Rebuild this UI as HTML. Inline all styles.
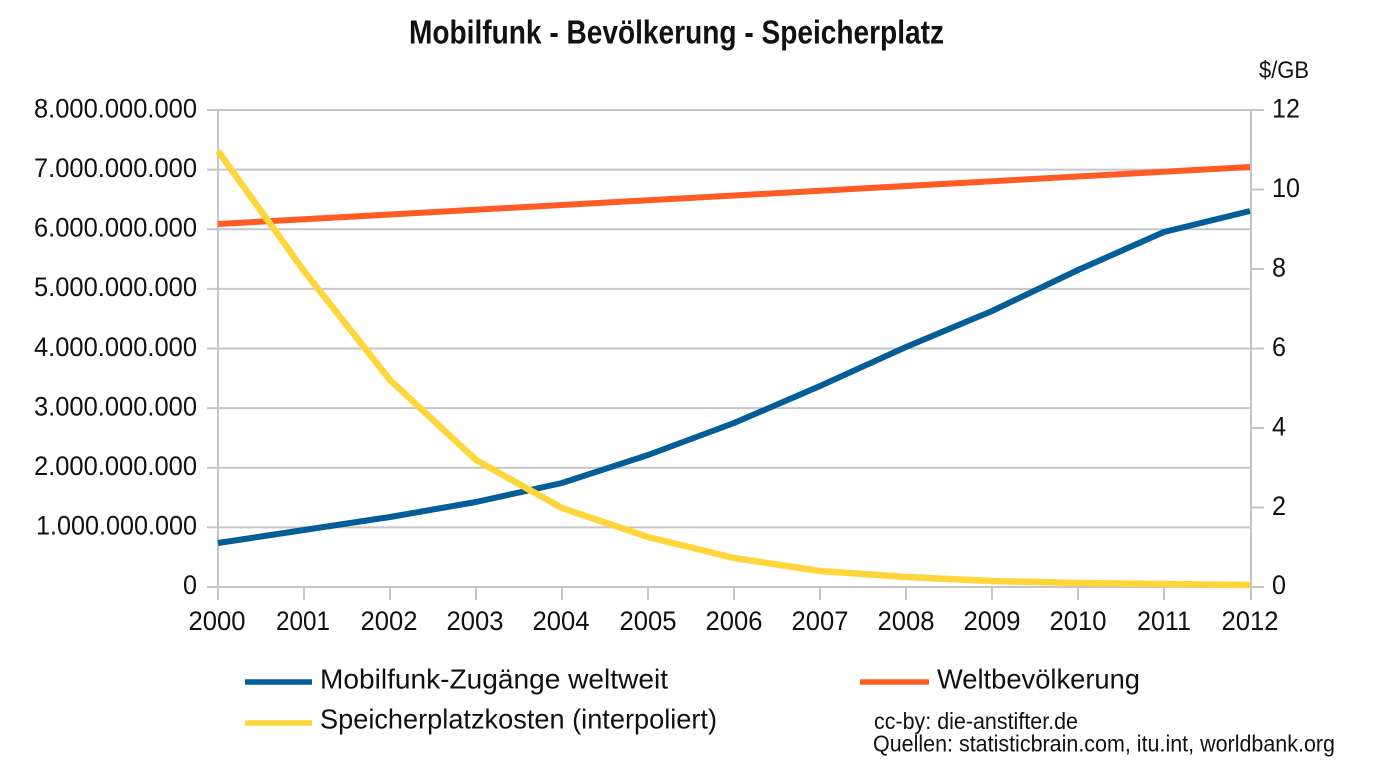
<!DOCTYPE html>
<html>
<head>
<meta charset="utf-8">
<style>
html,body{margin:0;padding:0;background:#fff;}
svg{display:block;}
text{font-family:"Liberation Sans",sans-serif;fill:#111;}
</style>
</head>
<body>
<svg width="1400" height="770" viewBox="0 0 1400 770" xmlns="http://www.w3.org/2000/svg">
<rect width="1400" height="770" fill="#fff"/>
<!-- title -->
<text x="409" y="43.5" font-size="33" font-weight="bold" textLength="535" lengthAdjust="spacingAndGlyphs">Mobilfunk - Bevölkerung - Speicherplatz</text>

<!-- gridlines (left ticks included) -->
<g stroke="#c6c6c6" stroke-width="2" fill="none">
<line x1="207" y1="110" x2="1264" y2="110"/>
<line x1="207" y1="169.6" x2="1251" y2="169.6"/>
<line x1="207" y1="229.25" x2="1251" y2="229.25"/>
<line x1="207" y1="288.9" x2="1251" y2="288.9"/>
<line x1="207" y1="348.5" x2="1264" y2="348.5"/>
<line x1="207" y1="408.1" x2="1251" y2="408.1"/>
<line x1="207" y1="467.75" x2="1251" y2="467.75"/>
<line x1="207" y1="527.4" x2="1251" y2="527.4"/>
<line x1="207" y1="587" x2="1264" y2="587"/>
<!-- right ticks -->
<line x1="1251" y1="189.5" x2="1264" y2="189.5"/>
<line x1="1251" y1="269" x2="1264" y2="269"/>
<line x1="1251" y1="428" x2="1264" y2="428"/>
<line x1="1251" y1="507.5" x2="1264" y2="507.5"/>
<!-- axes -->
<line x1="218" y1="109" x2="218" y2="600"/>
<line x1="1251" y1="109" x2="1251" y2="600"/>
<!-- x ticks -->
<line x1="304" y1="587" x2="304" y2="600"/>
<line x1="390" y1="587" x2="390" y2="600"/>
<line x1="476" y1="587" x2="476" y2="600"/>
<line x1="562" y1="587" x2="562" y2="600"/>
<line x1="648" y1="587" x2="648" y2="600"/>
<line x1="734" y1="587" x2="734" y2="600"/>
<line x1="820" y1="587" x2="820" y2="600"/>
<line x1="906" y1="587" x2="906" y2="600"/>
<line x1="992" y1="587" x2="992" y2="600"/>
<line x1="1078" y1="587" x2="1078" y2="600"/>
<line x1="1164" y1="587" x2="1164" y2="600"/>
</g>

<!-- left axis labels -->
<g font-size="27" text-anchor="end">
<text x="197" y="117.5" textLength="163" lengthAdjust="spacingAndGlyphs">8.000.000.000</text>
<text x="197" y="177" textLength="163" lengthAdjust="spacingAndGlyphs">7.000.000.000</text>
<text x="197" y="236.5" textLength="163" lengthAdjust="spacingAndGlyphs">6.000.000.000</text>
<text x="197" y="296" textLength="163" lengthAdjust="spacingAndGlyphs">5.000.000.000</text>
<text x="197" y="356" textLength="163" lengthAdjust="spacingAndGlyphs">4.000.000.000</text>
<text x="197" y="415.5" textLength="163" lengthAdjust="spacingAndGlyphs">3.000.000.000</text>
<text x="197" y="475" textLength="163" lengthAdjust="spacingAndGlyphs">2.000.000.000</text>
<text x="197" y="534.5" textLength="161" lengthAdjust="spacingAndGlyphs">1.000.000.000</text>
<text x="197" y="594" textLength="14" lengthAdjust="spacingAndGlyphs">0</text>
</g>

<!-- right axis labels -->
<g font-size="27">
<text x="1259" y="78" font-size="24" textLength="50" lengthAdjust="spacingAndGlyphs">$/GB</text>
<text x="1272" y="117.5" textLength="28" lengthAdjust="spacingAndGlyphs">12</text>
<text x="1272" y="197" textLength="28" lengthAdjust="spacingAndGlyphs">10</text>
<text x="1272" y="276.5" textLength="14" lengthAdjust="spacingAndGlyphs">8</text>
<text x="1272" y="356" textLength="14" lengthAdjust="spacingAndGlyphs">6</text>
<text x="1272" y="435.5" textLength="14" lengthAdjust="spacingAndGlyphs">4</text>
<text x="1272" y="515" textLength="14" lengthAdjust="spacingAndGlyphs">2</text>
<text x="1272" y="594" textLength="14" lengthAdjust="spacingAndGlyphs">0</text>
</g>

<!-- x labels -->
<g font-size="27" text-anchor="middle">
<text x="217" y="630" textLength="57" lengthAdjust="spacingAndGlyphs">2000</text>
<text x="303" y="630" textLength="54" lengthAdjust="spacingAndGlyphs">2001</text>
<text x="389" y="630" textLength="57" lengthAdjust="spacingAndGlyphs">2002</text>
<text x="475" y="630" textLength="57" lengthAdjust="spacingAndGlyphs">2003</text>
<text x="561" y="630" textLength="57" lengthAdjust="spacingAndGlyphs">2004</text>
<text x="648" y="630" textLength="57" lengthAdjust="spacingAndGlyphs">2005</text>
<text x="734" y="630" textLength="57" lengthAdjust="spacingAndGlyphs">2006</text>
<text x="820" y="630" textLength="57" lengthAdjust="spacingAndGlyphs">2007</text>
<text x="906" y="630" textLength="57" lengthAdjust="spacingAndGlyphs">2008</text>
<text x="992" y="630" textLength="57" lengthAdjust="spacingAndGlyphs">2009</text>
<text x="1078" y="630" textLength="57" lengthAdjust="spacingAndGlyphs">2010</text>
<text x="1164" y="630" textLength="54" lengthAdjust="spacingAndGlyphs">2011</text>
<text x="1250" y="630" textLength="57" lengthAdjust="spacingAndGlyphs">2012</text>
</g>

<!-- series -->
<g fill="none" stroke-linejoin="round" stroke-linecap="butt">
<polyline stroke="#ff5b26" stroke-width="6" points="218,224 1250,167"/>
<polyline stroke="#035d97" stroke-width="6" points="218,543 304,530 390,517 476,502 562,483 648,455 734,423 820,386 906,347 992,311 1078,270 1164,232 1250,211"/>
<polyline stroke="#ffd53c" stroke-width="6.5" points="218,151 304,271 390,380 476,460 562,508 648,537 734,558 820,571 906,577 992,581 1078,583 1164,584 1250,585"/>
</g>

<!-- legend -->
<line x1="245" y1="682" x2="312" y2="682" stroke="#035d97" stroke-width="5.5"/>
<text x="320" y="688.5" font-size="28" textLength="348" lengthAdjust="spacingAndGlyphs">Mobilfunk-Zugänge weltweit</text>
<line x1="860" y1="682" x2="929" y2="682" stroke="#ff5b26" stroke-width="5.5"/>
<text x="937" y="688.5" font-size="28" textLength="203" lengthAdjust="spacingAndGlyphs">Weltbevölkerung</text>
<line x1="245" y1="723" x2="312" y2="723" stroke="#ffd53c" stroke-width="5.5"/>
<text x="320" y="728.5" font-size="28" textLength="397" lengthAdjust="spacingAndGlyphs">Speicherplatzkosten (interpoliert)</text>

<!-- credits -->
<text x="874" y="729" font-size="23" textLength="204" lengthAdjust="spacingAndGlyphs">cc-by: die-anstifter.de</text>
<text x="873" y="751.5" font-size="23" textLength="462" lengthAdjust="spacingAndGlyphs">Quellen: statisticbrain.com, itu.int, worldbank.org</text>
</svg>
</body>
</html>
